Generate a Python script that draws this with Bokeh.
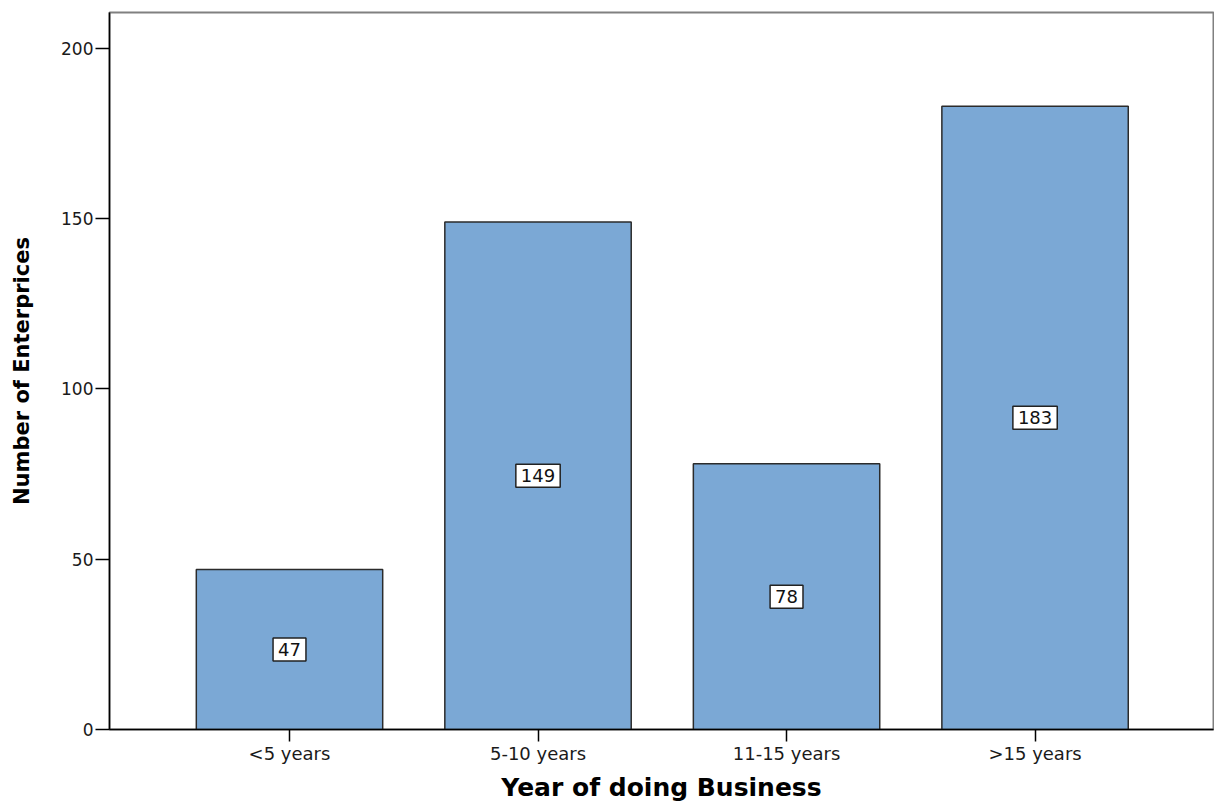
from bokeh.plotting import figure
from bokeh.models import FixedTicker, Range1d, ColumnDataSource
from bokeh.embed import file_html
from bokeh.resources import INLINE

categories = ["<5 years", "5-10 years", "11-15 years", ">15 years"]
counts = [47, 149, 78, 183]
y_ticks = [0, 50, 100, 150, 200]

x_pos = list(range(len(categories)))
src = ColumnDataSource(dict(
    x=x_pos,
    top=counts,
    mid=[c / 2 for c in counts],
    lbl=[str(c) for c in counts],
))

p = figure(width=1214, height=804, output_backend="svg", toolbar_location=None,
           x_range=Range1d(-0.7243, 3.718), y_range=Range1d(0, 210.5),
           min_border_left=109, min_border_top=12, min_border_right=1, min_border_bottom=75)

p.vbar(x="x", top="top", width=0.75, source=src, fill_color="#7ba8d5",
       line_color="#2b2b2b", line_width=1.5)

p.text(x="x", y="mid", text="lbl", source=src, text_align="center", text_baseline="middle",
       text_font={"value": "DejaVu Sans"}, text_font_size="18px", text_color="#111111",
       background_fill_color="white", border_line_color="#222222", border_line_width=1.5,
       padding=5)

p.grid.visible = False
p.outline_line_color = "#808080"
p.outline_line_width = 2
p.background_fill_color = "white"
p.border_fill_color = "white"

# Y axis
ya = p.yaxis[0]
ya.ticker = FixedTicker(ticks=y_ticks)
ya.axis_label = "Number of Enterprices"
ya.axis_label_text_font = "DejaVu Sans"
ya.axis_label_text_font_style = "bold"
ya.axis_label_text_font_size = "21px"
ya.axis_label_text_color = "black"
ya.axis_label_standoff = 24
ya.major_label_text_font = "DejaVu Sans"
ya.major_label_text_font_size = "17px"
ya.major_label_text_color = "#1a1a1a"
ya.major_label_standoff = 2
ya.major_tick_out = 14
ya.major_tick_in = 0
ya.minor_tick_out = 0
ya.minor_tick_in = 0
ya.axis_line_color = "black"
ya.axis_line_width = 1.5
ya.major_tick_line_color = "black"
ya.major_tick_line_width = 1.5

# X axis
xa = p.xaxis[0]
xa.ticker = FixedTicker(ticks=x_pos)
xa.major_label_overrides = {i: c for i, c in zip(x_pos, categories)}
xa.axis_label = "Year of doing Business"
xa.axis_label_text_font = "DejaVu Sans"
xa.axis_label_text_font_style = "bold"
xa.axis_label_text_font_size = "25px"
xa.axis_label_text_color = "black"
xa.axis_label_standoff = 6
xa.major_label_text_font = "DejaVu Sans"
xa.major_label_text_font_size = "18px"
xa.major_label_text_color = "#1a1a1a"
xa.major_label_standoff = 1
xa.major_tick_out = 12
xa.major_tick_in = 0
xa.minor_tick_out = 0
xa.minor_tick_in = 0
xa.axis_line_color = "black"
xa.axis_line_width = 1.5
xa.major_tick_line_color = "black"
xa.major_tick_line_width = 1.5

open("out.html", "w").write(file_html(p, INLINE))
